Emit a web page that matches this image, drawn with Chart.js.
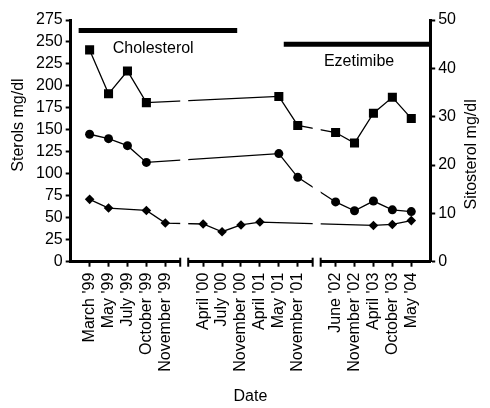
<!DOCTYPE html>
<html>
<head>
<meta charset="utf-8">
<script src="https://cdn.jsdelivr.net/npm/chart.js@4/dist/chart.umd.min.js"></script>
<style>
  html, body { margin: 0; padding: 0; background: #fff; }
</style>
</head>
<body>
<canvas id="sterolChart" width="490" height="408"></canvas>
<script>
// visit dates, '' marks a break in the time axis
const dates = ['', "March '99", "May '99", "July '99", "October '99", "November '99", '',
  "April '00", "July '00", "November '00", "April '01", "May '01", "November '01", '',
  "June '02", "November '02", "April '03", "October '03", "May '04", ''];

// squares and circles read on the left axis, diamonds on the right one
const cholesterol = [null, 241, 191, 217, 181, null, null, null, null, null, null, 188, 155, null, 147, 135, 169, 187, 163, null];
const ldl = [null, 145, 140, 132, 113, null, null, null, null, null, null, 123, 96, null, 68, 58, 69, 59, 57, null];
const sitosterol = [null, 12.9, 11.1, null, 10.6, 8.0, null, 7.8, 6.2, 7.6, 8.2, null, null, null, null, null, 7.5, 7.7, 8.5, null];

const leftTicks = [0, 25, 50, 75, 100, 125, 150, 175, 200, 225, 250, 275];
const rightTicks = [0, 10, 20, 30, 40, 50];

// treatment periods, start/end given on the date axis
const treatments = ['Cholesterol', 'Ezetimibe'];
const treatmentFrom = [0.42, 11.26];
const treatmentTo = [8.8, 19];

const FONT = '16px "Liberation Sans", Arial, sans-serif';
Chart.defaults.font.family = '"Liberation Sans", Arial, sans-serif';
Chart.defaults.font.size = 16;
Chart.defaults.color = '#000';

const breaksAndTreatments = {
  id: 'breaksAndTreatments',
  afterDraw(chart) {
    const { ctx, chartArea: a, scales } = chart;
    const x = scales.x;
    ctx.save();

    // axis breaks
    dates.forEach((d, i) => {
      if (d !== '' || i === 0 || i === dates.length - 1) return;
      const px = x.getPixelForValue(i);
      ctx.fillStyle = '#fff';
      ctx.fillRect(px - 4, a.top, 8, a.bottom - a.top + 4);
      ctx.strokeStyle = '#000';
      ctx.lineWidth = 2;
      [px - 4, px + 4].forEach(bx => {
        ctx.beginPath();
        ctx.moveTo(bx, a.bottom - 4);
        ctx.lineTo(bx, a.bottom + 5);
        ctx.stroke();
      });
    });

    // treatment bars
    const barY = [scales.y.getPixelForValue(263), scales.y2.getPixelForValue(45)];
    ctx.strokeStyle = '#000';
    ctx.lineWidth = 5;
    treatments.forEach((t, i) => {
      ctx.beginPath();
      ctx.moveTo(x.getPixelForValue(treatmentFrom[i]), barY[i]);
      ctx.lineTo(x.getPixelForValue(treatmentTo[i]), barY[i]);
      ctx.stroke();
    });

    ctx.fillStyle = '#000';
    ctx.font = FONT;
    ctx.textAlign = 'center';
    ctx.textBaseline = 'middle';
    ctx.fillText(treatments[0], x.getPixelForValue(4.36), scales.y.getPixelForValue(242.6));
    ctx.fillText(treatments[1], x.getPixelForValue(15.24), scales.y2.getPixelForValue(41.3));

    // axis titles, both read bottom to top
    const titles = [
      ['Sterols mg/dl', a.left - 52, scales.y.getPixelForValue(155.5)],
      ['Sitosterol mg/dl', a.right + 41, scales.y2.getPixelForValue(22.2)]
    ];
    titles.forEach(([txt, tx, ty]) => {
      ctx.save();
      ctx.translate(tx, ty);
      ctx.rotate(-Math.PI / 2);
      ctx.fillText(txt, 0, 0);
      ctx.restore();
    });
    ctx.restore();
  }
};

const series = (data, style, radius, axis) => ({
  data: data,
  yAxisID: axis,
  borderColor: '#000',
  backgroundColor: '#000',
  borderWidth: 1.3,
  pointStyle: style,
  pointRadius: radius,
  pointBorderWidth: 0,
  spanGaps: true,
  tension: 0
});

new Chart(document.getElementById('sterolChart'), {
  type: 'line',
  data: {
    labels: dates,
    datasets: [
      series(cholesterol, 'rect', 6.4, 'y'),
      series(ldl, 'circle', 4.5, 'y'),
      series(sitosterol, 'rectRot', 4.8, 'y2')
    ]
  },
  options: {
    responsive: false,
    animation: false,
    layout: { padding: { top: 20, left: 33, right: 31, bottom: 0 } },
    plugins: { legend: { display: false }, tooltip: { enabled: false } },
    scales: {
      x: {
        offset: false,
        border: { color: '#000', width: 3 },
        grid: {
          drawOnChartArea: false,
          tickLength: 5,
          tickWidth: 2,
          tickColor: c => (dates[c.index] ? '#000' : 'rgba(0,0,0,0)')
        },
        ticks: { autoSkip: false, minRotation: 90, maxRotation: 90, padding: 6 },
        title: { display: true, text: 'Date', padding: { top: 9, bottom: 2 } }
      },
      y: {
        position: 'left',
        min: 0,
        max: 275,
        afterBuildTicks: s => { s.ticks = leftTicks.map(v => ({ value: v })); },
        border: { color: '#000', width: 3 },
        grid: { drawOnChartArea: false, tickLength: 5, tickWidth: 2, color: '#000' },
        ticks: { autoSkip: false, padding: 3 }
      },
      y2: {
        position: 'right',
        min: 0,
        max: 50,
        afterBuildTicks: s => { s.ticks = rightTicks.map(v => ({ value: v })); },
        border: { color: '#000', width: 3 },
        grid: { drawOnChartArea: false, tickLength: 5, tickWidth: 2, color: '#000' },
        ticks: { autoSkip: false, padding: 3 }
      }
    }
  },
  plugins: [breaksAndTreatments]
});
</script>
</body>
</html>
